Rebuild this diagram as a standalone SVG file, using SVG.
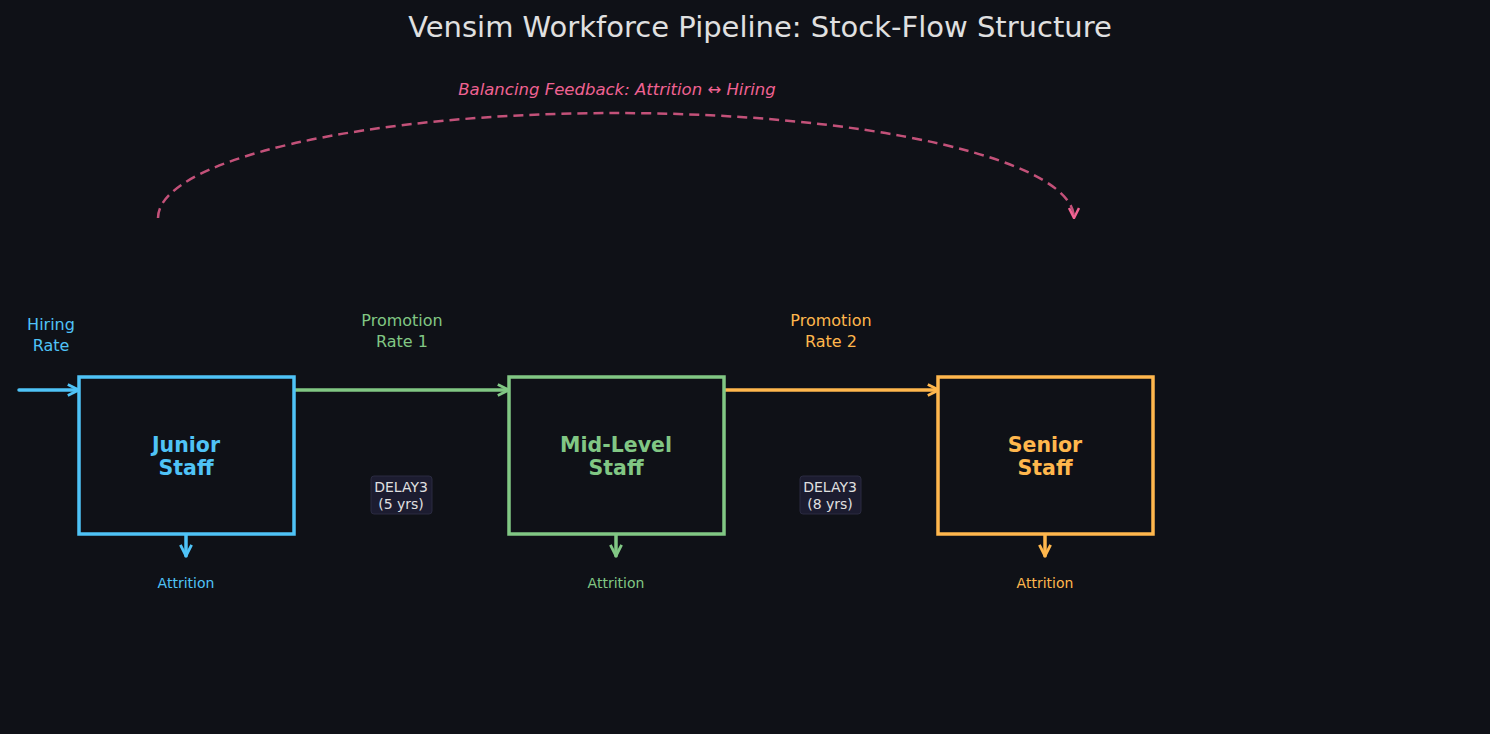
<svg xmlns="http://www.w3.org/2000/svg" width="1490" height="734" viewBox="0 0 1490 734">
<style>
text{font-family:"DejaVu Sans",sans-serif;text-anchor:middle}
.stock{fill:#0f1117;stroke-width:3.5}
.nm{font-size:20.5px;font-weight:bold}
.lbl{font-size:16px}
.att{font-size:14px}
.dl{font-size:14px;fill:#e0e0e0}
.flow{fill:none;stroke-width:3.5;stroke-linecap:round}
</style>
<defs>
<marker id="ab" viewBox="0 0 10 10" refX="9" refY="5" markerWidth="4" markerHeight="4" orient="auto"><path d="M1,1 L9,5 L1,9" fill="none" stroke="#4fc3f7" stroke-width="2"/></marker>
<marker id="ag" viewBox="0 0 10 10" refX="9" refY="5" markerWidth="4" markerHeight="4" orient="auto"><path d="M1,1 L9,5 L1,9" fill="none" stroke="#81c784" stroke-width="2"/></marker>
<marker id="ao" viewBox="0 0 10 10" refX="9" refY="5" markerWidth="4" markerHeight="4" orient="auto"><path d="M1,1 L9,5 L1,9" fill="none" stroke="#ffb74d" stroke-width="2"/></marker>
<marker id="ap" viewBox="0 0 10 10" refX="9" refY="5" markerWidth="5" markerHeight="5" orient="auto"><path d="M1,1 L9,5 L1,9" fill="none" stroke="#f06292" stroke-width="2"/></marker>
</defs>
<rect width="1490" height="734" fill="#0f1117"/>
<text x="760" y="37" font-size="29" fill="#e0e0e0">Vensim Workforce Pipeline: Stock-Flow Structure</text>
<g id="connectors">
<path class="flow" d="M19,390 H79" stroke="#4fc3f7" marker-end="url(#ab)"/>
<path class="flow" d="M291,390 H509" stroke="#81c784" marker-end="url(#ag)"/>
<path class="flow" d="M721,390 H939" stroke="#ffb74d" marker-end="url(#ao)"/>
<path class="flow" d="M186,533 V556" stroke="#4fc3f7" stroke-width="2.5" marker-end="url(#ab)"/>
<path class="flow" d="M616,533 V556" stroke="#81c784" stroke-width="2.5" marker-end="url(#ag)"/>
<path class="flow" d="M1045,533 V556" stroke="#ffb74d" stroke-width="2.5" marker-end="url(#ao)"/>
<path d="M158,218 A458,105 0 0 1 1074,218" fill="none" stroke="#f06292" stroke-opacity="0.8" stroke-width="2.5" stroke-dasharray="10,6" marker-end="url(#ap)"/>
</g>
<text x="617" y="95" font-size="16.5" font-style="italic" fill="#f06292">Balancing Feedback: Attrition ↔ Hiring</text>
<g id="junior">
<rect class="stock" x="79" y="377" width="215" height="157" stroke="#4fc3f7"/>
<text class="nm" x="186" y="452" fill="#4fc3f7">Junior</text>
<text class="nm" x="186" y="475" fill="#4fc3f7">Staff</text>
<text class="att" x="186" y="588" fill="#4fc3f7">Attrition</text>
</g>
<g id="mid">
<rect class="stock" x="509" y="377" width="215" height="157" stroke="#81c784"/>
<text class="nm" x="616" y="452" fill="#81c784">Mid-Level</text>
<text class="nm" x="616" y="475" fill="#81c784">Staff</text>
<text class="att" x="616" y="588" fill="#81c784">Attrition</text>
</g>
<g id="senior">
<rect class="stock" x="938" y="377" width="215" height="157" stroke="#ffb74d"/>
<text class="nm" x="1045" y="452" fill="#ffb74d">Senior</text>
<text class="nm" x="1045" y="475" fill="#ffb74d">Staff</text>
<text class="att" x="1045" y="588" fill="#ffb74d">Attrition</text>
</g>
<g id="hiring">
<text class="lbl" x="51" y="330" fill="#4fc3f7">Hiring</text>
<text class="lbl" x="51" y="351" fill="#4fc3f7">Rate</text>
</g>
<g id="promo1">
<text class="lbl" x="402" y="326" fill="#81c784">Promotion</text>
<text class="lbl" x="402" y="347" fill="#81c784">Rate 1</text>
<rect x="371" y="476" width="61" height="38" rx="3" fill="#1c1c30" stroke="#2a2a40"/>
<text class="dl" x="401" y="492">DELAY3</text>
<text class="dl" x="401" y="509">(5 yrs)</text>
</g>
<g id="promo2">
<text class="lbl" x="831" y="326" fill="#ffb74d">Promotion</text>
<text class="lbl" x="831" y="347" fill="#ffb74d">Rate 2</text>
<rect x="800" y="476" width="61" height="38" rx="3" fill="#1c1c30" stroke="#2a2a40"/>
<text class="dl" x="830" y="492">DELAY3</text>
<text class="dl" x="830" y="509">(8 yrs)</text>
</g>
</svg>
